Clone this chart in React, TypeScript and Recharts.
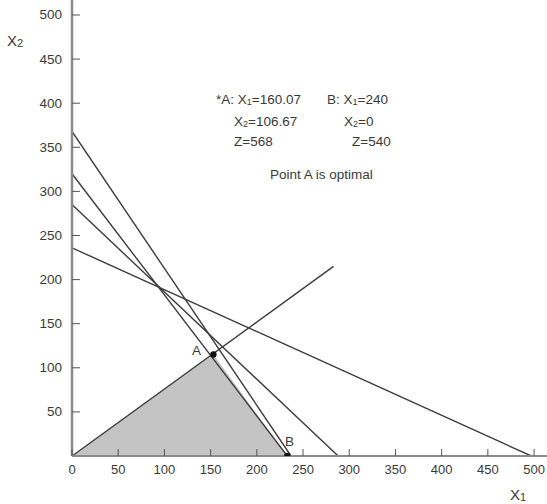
import React from 'react';
import { ComposedChart, Line, Area, Scatter, XAxis, YAxis, Customized } from 'recharts';

const xTicks = [0, 50, 100, 150, 200, 250, 300, 350, 400, 450, 500];
const yTicks = [50, 100, 150, 200, 250, 300, 350, 400, 450, 500];

const constraint1 = [{ x: 0, y: 368 }, { x: 237, y: 0 }];
const constraint2 = [{ x: 0, y: 320 }, { x: 233, y: 0 }];
const constraint3 = [{ x: 0, y: 285 }, { x: 288, y: 0 }];
const constraint4 = [{ x: 0, y: 236 }, { x: 497, y: 0 }];
const ratioLine = [{ x: 0, y: 0 }, { x: 283, y: 215 }];
const feasibleRegion = [{ x: 0, y: 0 }, { x: 153, y: 115 }, { x: 233, y: 0 }];
const cornerPoints = [{ x: 153, y: 115, name: 'A' }, { x: 233, y: 0, name: 'B' }];

const W = 547;
const H = 504;
const LEFT = 72;
const TXT = '#3a3a3a';
const FONT = 'Liberation Sans, Arial, sans-serif';

const XTick = (props: any) => {
  const { x, y, payload } = props;
  const axisY = y - 13;
  return (
    <g>
      <line x1={x} x2={x} y1={axisY} y2={axisY - 7} stroke="#555" strokeWidth={1} />
      <text x={x} y={y} textAnchor="middle" dominantBaseline="central" fill={TXT} fontSize={13} fontFamily={FONT}>
        {payload.value}
      </text>
    </g>
  );
};

const YTick = (props: any) => {
  const { x, y, payload } = props;
  const axisX = x + 10;
  return (
    <g>
      <line x1={axisX} x2={axisX + 8} y1={y} y2={y} stroke="#555" strokeWidth={1} />
      <text x={x} y={y} textAnchor="end" dominantBaseline="central" fill={TXT} fontSize={13.5} fontFamily={FONT}>
        {payload.value}
      </text>
    </g>
  );
};

const Sub = ({ children }: any) => (
  <tspan fontSize={9} dy={3}>{children}</tspan>
);

const Annotations = () => {
  const fs = 13.5;
  const common = { fill: TXT, fontSize: fs, fontFamily: FONT, dominantBaseline: 'central' as const };
  return (
    <g>
      <text x={7} y={40} {...common} fontSize={15}>X<tspan fontSize={11} dy={3}>2</tspan></text>
      <text x={510} y={494} {...common} fontSize={15}>X<tspan fontSize={11} dy={3}>1</tspan></text>

      <text x={216} y={99} {...common}>*A: X<Sub>1</Sub><tspan dy={-3}>=160.07</tspan></text>
      <text x={234} y={121} {...common}>X<Sub>2</Sub><tspan dy={-3}>=106.67</tspan></text>
      <text x={234} y={141} {...common}>Z=568</text>

      <text x={327} y={99} {...common}>B: X<Sub>1</Sub><tspan dy={-3}>=240</tspan></text>
      <text x={344} y={121} {...common}>X<Sub>2</Sub><tspan dy={-3}>=0</tspan></text>
      <text x={352} y={141} {...common}>Z=540</text>

      <text x={270} y={174} {...common}>Point A is optimal</text>

      <text x={192} y={350} {...common}>A</text>
      <text x={285} y={441} {...common}>B</text>
    </g>
  );
};

export default function App() {
  return (
    <div style={{ position: 'absolute', left: 0, top: 0, width: W, height: H, background: '#fff' }}>
      <ComposedChart width={W} height={H} margin={{ top: 0, right: 0, bottom: 18, left: 0 }}>
        <XAxis
          type="number"
          dataKey="x"
          domain={[0, 514]}
          ticks={xTicks}
          allowDataOverflow
          height={30}
          tickSize={0}
          tickMargin={13}
          tickLine={false}
          tick={<XTick />}
          axisLine={{ stroke: '#8a8a8a', strokeWidth: 2 }}
        />
        <YAxis
          type="number"
          dataKey="y"
          domain={[0, 517]}
          ticks={yTicks}
          allowDataOverflow
          width={LEFT}
          tickSize={0}
          tickMargin={10}
          tickLine={false}
          tick={<YTick />}
          axisLine={{ stroke: '#8a8a8a', strokeWidth: 2.5 }}
        />
        <Area
          data={feasibleRegion}
          dataKey="y"
          type="linear"
          fill="#c4c4c4"
          fillOpacity={1}
          stroke="none"
          isAnimationActive={false}
        />
        <Line data={constraint1} dataKey="y" type="linear" stroke="#3c3c3c" strokeWidth={1.4} dot={false} isAnimationActive={false} />
        <Line data={constraint2} dataKey="y" type="linear" stroke="#3c3c3c" strokeWidth={1.4} dot={false} isAnimationActive={false} />
        <Line data={constraint3} dataKey="y" type="linear" stroke="#3c3c3c" strokeWidth={1.4} dot={false} isAnimationActive={false} />
        <Line data={constraint4} dataKey="y" type="linear" stroke="#3c3c3c" strokeWidth={1.4} dot={false} isAnimationActive={false} />
        <Line data={ratioLine} dataKey="y" type="linear" stroke="#3c3c3c" strokeWidth={1.4} dot={false} isAnimationActive={false} />
        <Scatter
          data={cornerPoints}
          dataKey="y"
          fill="#111"
          isAnimationActive={false}
          shape={(p: any) => <circle cx={p.cx} cy={p.cy} r={3.2} fill="#111" />}
        />
        <Customized component={Annotations} />
      </ComposedChart>
    </div>
  );
}
